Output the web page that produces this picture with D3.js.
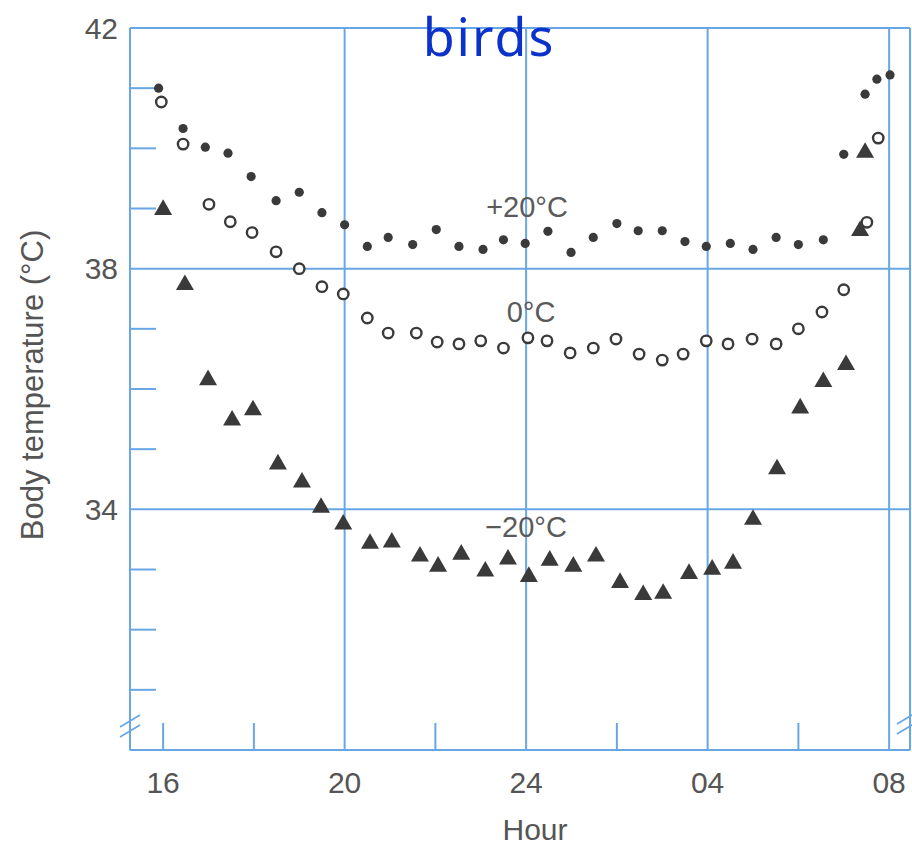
<!DOCTYPE html>
<html lang="en">
<head>
  <meta charset="UTF-8">
  <title>Body temperature of birds</title>
  <script src="https://d3js.org/d3.v7.min.js"></script>
  <style>
    body { margin: 0; background: #fff; }
    svg { display: block; }
    .tick-label { font-family: "Liberation Sans", Arial, sans-serif; font-size: 30px; fill: #555; }
    .series-label { font-family: "Liberation Sans", Arial, sans-serif; font-size: 29px; fill: #5a5a5a; }
  </style>
</head>
<body>
  <svg width="912" height="849"></svg>

  <script>
    // hours run on past midnight (24 = 00, 28 = 04, 32 = 08)
    const warmHours = [15.9, 16.44, 16.93, 17.43, 17.94, 18.49, 19.0, 19.5, 20.0, 20.5, 20.96, 21.5, 22.02, 22.52,
                       23.05, 23.5, 23.98, 24.48, 24.99, 25.48, 26.0, 26.47, 27.0, 27.5, 27.97, 28.5, 29.0, 29.51,
                       30.0, 30.55, 31.0, 31.47, 31.73, 32.02];
    const warmTemps = [41.0, 40.33, 40.02, 39.92, 39.53, 39.13, 39.27, 38.93, 38.73, 38.37, 38.52, 38.4, 38.65, 38.37,
                       38.32, 38.48, 38.42, 38.62, 38.27, 38.52, 38.75, 38.63, 38.63, 38.45, 38.37, 38.42, 38.32, 38.52,
                       38.4, 38.48, 39.9, 40.9, 41.15, 41.22];

    const zeroHours = [15.96, 16.44, 17.01, 17.48, 17.96, 18.49, 19.0, 19.5, 19.97, 20.5, 20.96, 21.58, 22.04, 22.52,
                       23.0, 23.5, 24.04, 24.46, 24.97, 25.48, 25.98, 26.49, 27.0, 27.46, 27.97, 28.45, 28.98, 29.51,
                       30.0, 30.52, 31.0, 31.51, 31.76];
    const zeroTemps = [40.77, 40.07, 39.07, 38.78, 38.6, 38.28, 38.0, 37.7, 37.58, 37.18, 36.93, 36.93, 36.78, 36.75,
                       36.8, 36.68, 36.85, 36.8, 36.6, 36.68, 36.83, 36.58, 36.48, 36.58, 36.8, 36.75, 36.83, 36.75,
                       37.0, 37.28, 37.65, 38.77, 40.17];

    const coldHours = [16.0, 16.48, 16.99, 17.52, 17.98, 18.53, 19.06, 19.48, 19.97, 20.56, 21.04, 21.66, 22.06, 22.57,
                       23.1, 23.6, 24.06, 24.52, 25.04, 25.54, 26.07, 26.58, 27.02, 27.59, 28.1, 28.56, 29.0, 29.53,
                       30.04, 30.55, 31.05, 31.36, 31.47];
    const coldTemps = [38.98, 37.73, 36.15, 35.48, 35.65, 34.75, 34.45, 34.03, 33.75, 33.43, 33.45, 33.22, 33.05, 33.25,
                       32.97, 33.17, 32.88, 33.15, 33.05, 33.22, 32.78, 32.58, 32.6, 32.93, 33.0, 33.1, 33.83, 34.67,
                       35.68, 36.12, 36.4, 38.63, 39.93];

    const xMajor = [16, 20, 24, 28, 32];
    const xMajorLabels = ["16", "20", "24", "04", "08"];
    const xGrid = [20, 24, 28, 32];
    const xMinor = [16, 18, 22, 26, 30];
    const yMajor = [42, 38, 34];
    const yMinor = [41, 40, 39, 37, 36, 35, 33, 32, 31];

    const svg = d3.select("svg");
    const blue = "#68a6e6";
    const ink = "#3a3a3a";

    const x = d3.scaleLinear().domain([15.27, 32.46]).range([130, 910]);
    const y = d3.scaleLinear().domain([30, 42]).range([750, 28]);
    const [x0, x1] = x.range();
    const [yb, yt] = y.range();

    const grid = svg.append("g").attr("stroke", blue).attr("stroke-width", 2).attr("fill", "none");

    // frame: top, left, bottom, right
    grid.append("line").attr("x1", x0).attr("x2", x1).attr("y1", yt).attr("y2", yt);
    grid.append("line").attr("x1", x0).attr("x2", x0).attr("y1", yt).attr("y2", yb);
    grid.append("line").attr("x1", x0).attr("x2", x1).attr("y1", yb).attr("y2", yb);
    grid.append("line").attr("x1", x1).attr("x2", x1).attr("y1", yt).attr("y2", yb);

    grid.selectAll(".vgrid").data(xGrid).enter().append("line")
      .attr("x1", d => x(d)).attr("x2", d => x(d))
      .attr("y1", yt).attr("y2", yb);

    grid.selectAll(".hgrid").data([38, 34]).enter().append("line")
      .attr("x1", x0).attr("x2", x1)
      .attr("y1", d => y(d)).attr("y2", d => y(d));

    grid.selectAll(".xminor").data(xMinor).enter().append("line")
      .attr("x1", d => x(d)).attr("x2", d => x(d))
      .attr("y1", yb).attr("y2", yb - 27);

    grid.selectAll(".yminor").data(yMinor).enter().append("line")
      .attr("x1", x0).attr("x2", x0 + 26)
      .attr("y1", d => y(d)).attr("y2", d => y(d));

    // axis break marks
    [[x0, yb - 24], [x1 - 3, yb - 27]].forEach(([bx, by]) => {
      [-5, 5].forEach(off => {
        grid.append("line")
          .attr("x1", bx - 10).attr("y1", by + off + 6)
          .attr("x2", bx + 10).attr("y2", by + off - 6)
          .attr("stroke-width", 1.6);
      });
    });

    svg.selectAll(".ylab").data(yMajor).enter().append("text")
      .attr("class", "tick-label")
      .attr("x", x0 - 12).attr("y", d => y(d))
      .attr("dy", "0.36em")
      .attr("text-anchor", "end")
      .text(d => d);

    svg.selectAll(".xlab").data(xMajor).enter().append("text")
      .attr("class", "tick-label")
      .attr("x", d => x(d)).attr("y", 793)
      .attr("text-anchor", "middle")
      .text((d, i) => xMajorLabels[i]);

    svg.append("text").attr("class", "tick-label")
      .attr("x", 535).attr("y", 840).attr("text-anchor", "middle")
      .text("Hour");

    svg.append("text").attr("class", "tick-label")
      .attr("transform", "translate(43,385) rotate(-90)")
      .attr("text-anchor", "middle")
      .style("font-size", "31px")
      .text("Body temperature (°C)");

    svg.append("text")
      .attr("x", 489).attr("y", 56).attr("text-anchor", "middle")
      .style("font-family", "'Noto Sans', sans-serif").style("font-size", "52px")
      .style("letter-spacing", "2px")
      .attr("fill", "#0b33cc")
      .text("birds");

    svg.append("text").attr("class", "series-label").attr("x", 527).attr("y", 217).attr("text-anchor", "middle").text("+20°C");
    svg.append("text").attr("class", "series-label").attr("x", 531).attr("y", 322).attr("text-anchor", "middle").text("0°C");
    svg.append("text").attr("class", "series-label").attr("x", 526).attr("y", 537).attr("text-anchor", "middle").text("\u221220°C");

    const warm = warmHours.map((h, i) => ({h, t: warmTemps[i]}));
    const zero = zeroHours.map((h, i) => ({h, t: zeroTemps[i]}));
    const cold = coldHours.map((h, i) => ({h, t: coldTemps[i]}));

    svg.append("g").selectAll("circle").data(warm).enter().append("circle")
      .attr("cx", d => x(d.h)).attr("cy", d => y(d.t))
      .attr("r", 4.6).attr("fill", ink);

    svg.append("g").selectAll("circle").data(zero).enter().append("circle")
      .attr("cx", d => x(d.h)).attr("cy", d => y(d.t))
      .attr("r", 5.2).attr("fill", "#fff").attr("stroke", ink).attr("stroke-width", 2.4);

    const tri = d3.symbol().type(d3.symbolTriangle).size(140);
    svg.append("g").selectAll("path").data(cold).enter().append("path")
      .attr("d", tri)
      .attr("transform", d => `translate(${x(d.h)},${y(d.t)})`)
      .attr("fill", ink);
  </script>
</body>
</html>
